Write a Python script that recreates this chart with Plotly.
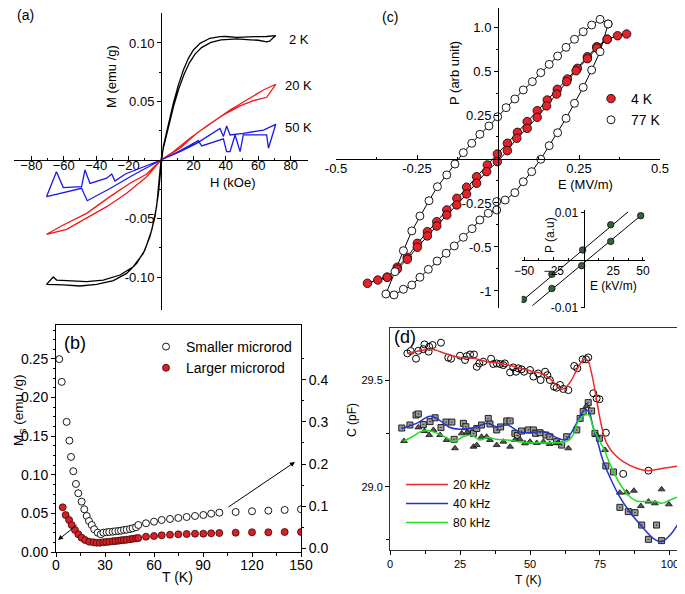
import plotly.graph_objects as go

# The page body has an 8px margin, so the figure is drawn 8px smaller and positions are shifted.
OFF = 8
W, H = 685 - OFF, 594 - OFF
FONT = "Liberation Sans, Arial, Helvetica, sans-serif"


def fx(p):
    return (p - OFF) / W


def fy(p):
    return 1 - (p - OFF) / H


# ---------------- (a) M-H loops ----------------
m2k_H = [70.8, 65, 58, 50, 46.7, 40, 36.4, 30.2, 24.1, 20, 16.9, 13.8, 10.7, 7.6, 4.5, 1.4, -0.2, -1.6,
         -3.7, -6.8, -10.9, -17.1, -25.3, -35.6, -45.9, -56.2, -64.4, -66.5, -70.6,
         -60.3, -50, -39.7, -29.4, -21.2, -15, -9.9, -5.7, -2.7, 0, 1.6, 4.7, 7.8, 11, 14.2, 17.5,
         21, 25, 30.8, 37, 47, 55, 60, 65.2, 67, 70.8]
m2k_M = [0.1063, 0.1055, 0.1054, 0.1048, 0.1048, 0.1055, 0.1054, 0.104, 0.0997, 0.094, 0.0869, 0.0769,
         0.064, 0.0484, 0.031, 0.0114, -0.0085, -0.0285, -0.0484, -0.0655, -0.0798, -0.0912, -0.0983,
         -0.1026, -0.104, -0.1034, -0.1026, -0.1000, -0.1063,
         -0.1068, -0.1077, -0.1063, -0.1031, -0.0969, -0.0883, -0.0769, -0.0598, -0.0399, 0, 0.011,
         0.029, 0.046, 0.061, 0.073, 0.083, 0.0905, 0.096, 0.1005, 0.1027, 0.1035, 0.1027, 0.1023,
         0.1009, 0.1015, 0.1063]

m20_H = [70.8, 63.2, 52.9, 42.6, 32.3, 22, 11.7, 0, -8.8, -19.1, -31.5, -45.9, -60.3, -70.6, -58.2,
         -45.9, -33.5, -21.2, -8.8, 0, 7.6, 17.9, 28.2, 38.5, 48.8, 57, 65.2, 70.8]
m20_M = [0.0647, 0.0598, 0.0513, 0.0427, 0.0328, 0.0228, 0.01, 0, -0.012, -0.0199, -0.0313, -0.0456,
         -0.0556, -0.0635, -0.0593, -0.0499, -0.0399, -0.0285, -0.0143, 0, 0.0071, 0.0185, 0.029,
         0.0385, 0.0462, 0.0507, 0.0536, 0.0647]

m50_H = [0, 11.7, 22, 30.2, 36.4, 38.5, 40.5, 42.6, 50.8, 63.2, 70.8, 66.3, 65.2, 50.8, 48.8, 45.7,
         42.6, 40.5, 38.5, 25.1, 23, 12, 0, -17.1, -32.3, -45.5, -49, -70.6, -64.5, -60.3, -49, -46.9,
         -43.8, -33.5, -30.4, -28.4, -22, 0]
m50_M = [0, 0.0071, 0.0142, 0.0214, 0.027, 0.020, 0.029, 0.0214, 0.0228, 0.0256, 0.0305, 0.010,
         0.0214, 0.0214, 0.0071, 0.0214, 0.0071, 0.0071, 0.018, 0.012, 0.0165, 0.008, 0, -0.0128,
         -0.025, -0.0348, -0.0242, -0.0313, -0.010, -0.0236, -0.0228, -0.0085, -0.020, -0.0156,
         -0.012, -0.018, -0.012, 0]

a_xticks = [-80, -60, -40, -20, 20, 40, 60, 80]
a_yticks = [-0.10, -0.05, 0.05, 0.10]
a_yticktext = ["-0.10", "-0.05", "0.05", "0.10"]

# ---------------- (c) P-E loops ----------------
p77_E = [0.340, 0.315, 0.289, 0.263, 0.236, 0.210, 0.184, 0.158, 0.132, 0.106, 0.078, 0.052, 0.025,
         -0.001, -0.028, -0.056, -0.081, -0.107, -0.133, -0.158, -0.187, -0.213, -0.241, -0.266,
         -0.292, -0.318, -0.346,
         -0.321, -0.292, -0.266, -0.241, -0.215, -0.188, -0.160, -0.135, -0.107, -0.080, -0.056,
         -0.030, -0.004, -0.004, 0.022, 0.052, 0.078, 0.104, 0.132, 0.158, 0.184, 0.210, 0.236,
         0.263, 0.289, 0.315, 0.340]
p77_P = [1.023, 1.058, 1.015, 0.964, 0.907, 0.846, 0.780, 0.717, 0.654, 0.586, 0.523, 0.455, 0.389,
         0.320, 0.250, 0.187, 0.119, 0.048, -0.038, -0.121, -0.210, -0.316, -0.432, -0.545, -0.695,
         -0.854, -1.023,
         -1.030, -0.987, -0.955, -0.896, -0.836, -0.773, -0.714, -0.659, -0.593, -0.528, -0.462,
         -0.411, -0.386, -0.323, -0.311, -0.255, -0.172, -0.096, -0.002, 0.101, 0.199, 0.308, 0.422,
         0.543, 0.674, 0.813, 1.023]

p4_E = [0.397, 0.369, 0.337, 0.305, 0.276, 0.245, 0.214, 0.183, 0.152, 0.121, 0.090, 0.060, 0.029,
        -0.002, -0.033, -0.066, -0.097, -0.127, -0.158, -0.189, -0.218, -0.249, -0.280, -0.311,
        -0.342, -0.371, -0.403,
        -0.342, -0.311, -0.280, -0.249, -0.218, -0.189, -0.158, -0.127, -0.097, -0.066, -0.035,
        -0.002, 0.029, 0.058, 0.090, 0.121, 0.150, 0.181, 0.212, 0.241, 0.276, 0.305, 0.337]
p4_P = [0.947, 0.934, 0.907, 0.851, 0.775, 0.687, 0.606, 0.528, 0.447, 0.366, 0.283, 0.202, 0.119,
        0.038, -0.045, -0.134, -0.214, -0.298, -0.386, -0.475, -0.551, -0.639, -0.745, -0.820,
        -0.896, -0.917, -0.942,
        -0.896, -0.835, -0.760, -0.669, -0.583, -0.508, -0.424, -0.348, -0.265, -0.184, -0.096,
        -0.020, 0.063, 0.157, 0.232, 0.316, 0.402, 0.492, 0.586, 0.669, 0.760, 0.840, 0.907]

c_xticks = [-0.5, -0.25, 0.25, 0.5]
c_xticktext = ["-0.5", "-0.25", "0.25", "0.5"]
c_yticks = [-1, -2 / 3, -1 / 3, 1 / 3, 2 / 3, 1]
c_yticktext = ["-1", "-0.5", "-0.25", "0.25", "0.5", "1.0"]

# inset
ins1_E = [-50.6, -26.6, -0.7, 22.9]
ins1_P = [-0.0083, -0.0030, 0.0021, 0.0074]
ins2_E = [-26.6, -1.5, 22.9, 48.1]
ins2_P = [-0.0060, -0.0012, 0.0039, 0.0093]
fit1_E = [-55, 37.5]
fit1_P = [-0.0093, 0.0101]
fit2_E = [-43, 50.5]
fit2_P = [-0.0096, 0.0098]

# ---------------- (b) Ms vs T ----------------
small_T = [2.0, 3.5, 6.5, 8.2, 9.2, 10.6, 12.2, 13.65, 15.7, 17.3, 18.8, 20.2, 21.9, 23.4, 25.5, 27.4,
           29.0, 31.0, 32.6, 34.7, 36.3, 38.2, 39.8, 41.6, 43.3, 45.3, 46.9, 49.0, 50.4, 55.1, 60.0,
           64.7, 69.8, 74.9, 80.0, 85.1, 90.2, 95, 100, 110, 120, 130, 140, 150]
small_M = [0.449, 0.395, 0.300, 0.2556, 0.2169, 0.1829, 0.1527, 0.1306, 0.1107, 0.0926, 0.0767,
           0.0648, 0.0553, 0.0451, 0.0371, 0.0333, 0.0371, 0.0380, 0.0387, 0.0394, 0.0404, 0.0411,
           0.0418, 0.0435, 0.0442, 0.0458, 0.0475, 0.0500, 0.0553, 0.0594, 0.0632, 0.0672, 0.0696,
           0.0720, 0.0743, 0.0767, 0.0791, 0.0822, 0.0846, 0.0862, 0.0879, 0.0893, 0.0910, 0.0926]
large_T = [4.1, 5.9, 8.0, 9.6, 11.6, 13.7, 15.7, 17.8, 20.4, 22.9, 24.9, 26.9, 29.0, 30.8, 32.6, 34.7,
           36.4, 38.2, 39.9, 41.6, 43.3, 45.3, 47.1, 49.0, 50.4, 55.1, 60.0, 64.7, 69.8, 74.9, 80,
           85.1, 90.2, 95, 100, 110, 120, 130, 140, 150]
large_M = [0.0579, 0.0479, 0.0415, 0.0350, 0.0285, 0.0229, 0.0185, 0.0155, 0.0133, 0.0126, 0.0120,
           0.0120, 0.0126, 0.0130, 0.0133, 0.0139, 0.0142, 0.0146, 0.0152, 0.0155, 0.0159, 0.0165,
           0.0171, 0.0177, 0.0181, 0.0198, 0.0207, 0.0216, 0.0224, 0.0229, 0.0233, 0.0237, 0.0237,
           0.0242, 0.0246, 0.0250, 0.0255, 0.0255, 0.0259, 0.0259]

# ---------------- (d) C vs T ----------------
circ_T = [6.2, 7.4, 9.3, 10.1, 11.9, 12.3, 13.8, 14.0, 15.2, 18.2, 20.8, 21.8, 25.0, 26.8, 27.4, 28.6,
          30.0, 31.0, 31.9, 33.3, 36.1, 36.9, 38.1, 39.3, 40.5, 41.0, 42.9, 44.0, 45.0, 45.8, 47.0,
          47.9, 50.0, 51.2, 52.9, 53.8, 55.4, 56.2, 57.1, 58.6, 59.5, 60.7, 61.9, 63.7, 65.8, 66.9,
          68.8, 70.0, 70.8, 72.6, 73.8, 74.8, 77.1, 83.3, 92.3]
circ_C = [29.625, 29.636, 29.600, 29.637, 29.645, 29.667, 29.633, 29.656, 29.664, 29.675, 29.605,
          29.600, 29.614, 29.594, 29.612, 29.620, 29.620, 29.562, 29.578, 29.586, 29.600, 29.575,
          29.578, 29.575, 29.570, 29.578, 29.536, 29.559, 29.539, 29.555, 29.550, 29.539, 29.547,
          29.516, 29.531, 29.500, 29.539, 29.523, 29.500, 29.469, 29.464, 29.477, 29.458, 29.453,
          29.566, 29.555, 29.597, 29.597, 29.606, 29.438, 29.414, 29.410, 29.253, 29.060, 29.075]
sq_T = [4.2, 7.1, 9.3, 10.1, 11.9, 14.3, 16.1, 18.2, 20, 22.1, 22.9, 26.2, 27.1, 28.3, 29.8, 31, 32.7,
        35.1, 35.7, 38.1, 39.5, 41.7, 42.9, 44.6, 45.5, 47, 49.4, 51.2, 52, 53.6, 55.7, 57.1, 59.5,
        61.3, 63.1, 66.7, 67.9, 69, 70.8, 72, 73.2, 74.8, 77.1, 79.8, 82.1, 85.1, 87.5, 89.9, 92.3,
        95.2, 97]
sq_C = [29.275, 29.289, 29.336, 29.341, 29.291, 29.305, 29.323, 29.277, 29.303, 29.303, 29.222,
        29.297, 29.281, 29.258, 29.25, 29.273, 29.289, 29.320, 29.294, 29.266, 29.28, 29.308, 29.308,
        29.25, 29.24, 29.261, 29.266, 29.266, 29.25, 29.253, 29.242, 29.234, 29.211, 29.195, 29.234,
        29.266, 29.32, 29.352, 29.394, 29.355, 29.25, 29.227, 29.097, 29.069, 28.903, 28.883, 28.878,
        28.82, 28.753, 28.82, 28.747]
tri_T = [5, 10.1, 12.3, 14, 15.5, 17.9, 20.2, 23.2, 25.6, 27.6, 29.8, 31, 32.7, 34.5, 35.7, 38.1,
         40.5, 42.9, 44.6, 46.4, 48.2, 50, 52.4, 54.8, 57, 60, 63.7, 70.2, 73.8, 76.8, 82.1, 84.5,
         87.1, 89.6, 92.3, 94.6, 97, 99.6]
tri_C = [29.214, 29.278, 29.261, 29.242, 29.266, 29.242, 29.219, 29.18, 29.25, 29.255, 29.1875,
         29.195, 29.234, 29.234, 29.219, 29.195, 29.211, 29.1875, 29.219, 29.222, 29.203, 29.211,
         29.205, 29.211, 29.2, 29.205, 29.18, 29.378, 29.242, 29.172, 28.972, 28.973, 28.981,
         28.909, 28.93, 28.922, 28.9875, 28.917]
fit20_T = [6.2, 10.1, 14.9, 20.2, 25, 29.8, 34.5, 39.3, 44.6, 50, 54.8, 58.3, 61.3, 64, 66.7, 69,
           70.5, 72, 73.8, 75.6, 77.4, 80.4, 83.3, 88.1, 92.3, 97.6, 103]
fit20_C = [29.625, 29.636, 29.644, 29.622, 29.606, 29.602, 29.586, 29.578, 29.5625, 29.544, 29.528,
           29.492, 29.456, 29.484, 29.547, 29.594, 29.594, 29.531, 29.406, 29.281, 29.203, 29.148,
           29.117, 29.086, 29.075, 29.086, 29.097]
fit40_T = [4.2, 9.5, 14.3, 17.9, 21, 25, 30, 35, 38, 42, 46, 50, 55, 60, 62.5, 65, 67.5, 69.5, 71,
           72.5, 74, 76, 79, 82, 86, 90, 94, 97, 100, 103]
fit40_C = [29.273, 29.297, 29.33, 29.31, 29.28, 29.269, 29.277, 29.297, 29.281, 29.289, 29.258,
           29.253, 29.258, 29.227, 29.219, 29.258, 29.32, 29.36, 29.352, 29.281, 29.219, 29.125,
           29.031, 28.953, 28.875, 28.8125, 28.758, 28.742, 28.773, 28.828]
fit80_T = [5, 8, 11, 14, 17, 20, 23, 26, 29, 32, 35, 38, 42, 46, 50, 55, 60, 63, 65, 67.5, 69.5, 71,
           72.5, 74, 76, 79, 82, 85, 88, 91, 95, 97, 100, 103]
fit80_C = [29.214, 29.234, 29.258, 29.2625, 29.25, 29.231, 29.211, 29.234, 29.242, 29.219, 29.231,
           29.222, 29.219, 29.211, 29.206, 29.206, 29.206, 29.211, 29.234, 29.3125, 29.336, 29.336,
           29.281, 29.234, 29.1875, 29.094, 29.016, 28.961, 28.933, 28.93, 28.93, 28.922, 28.9375,
           28.953]

fig = go.Figure()

# (a)
fig.add_trace(go.Scatter(x=m2k_H, y=m2k_M, mode="lines", line=dict(color="black", width=1.3),
                         xaxis="x", yaxis="y", showlegend=False))
fig.add_trace(go.Scatter(x=m20_H, y=m20_M, mode="lines", line=dict(color="#f01818", width=1.3),
                         xaxis="x", yaxis="y", showlegend=False))
fig.add_trace(go.Scatter(x=m50_H, y=m50_M, mode="lines", line=dict(color="#1818e8", width=1.3),
                         xaxis="x", yaxis="y", showlegend=False))

# (c) main
fig.add_trace(go.Scatter(x=p77_E, y=p77_P, mode="lines", line=dict(color="black", width=1),
                         xaxis="x2", yaxis="y2", showlegend=False))
fig.add_trace(go.Scatter(x=p4_E, y=p4_P, mode="lines", line=dict(color="black", width=1),
                         xaxis="x2", yaxis="y2", showlegend=False))
fig.add_trace(go.Scatter(x=p4_E, y=p4_P, mode="markers", name="4 K",
                         marker=dict(size=8.5, color="#e4222a", line=dict(color="black", width=0.8)),
                         xaxis="x2", yaxis="y2", legend="legend2"))
fig.add_trace(go.Scatter(x=p77_E, y=p77_P, mode="markers", name="77 K",
                         marker=dict(size=8, color="white", line=dict(color="black", width=0.9)),
                         xaxis="x2", yaxis="y2", legend="legend2"))
# inset
fig.add_trace(go.Scatter(x=fit1_E, y=fit1_P, mode="lines", line=dict(color="black", width=1),
                         xaxis="x3", yaxis="y3", showlegend=False))
fig.add_trace(go.Scatter(x=fit2_E, y=fit2_P, mode="lines", line=dict(color="black", width=1),
                         xaxis="x3", yaxis="y3", showlegend=False))
for ex, py_ in ((ins1_E, ins1_P), (ins2_E, ins2_P)):
    fig.add_trace(go.Scatter(x=ex, y=py_, mode="markers",
                             marker=dict(size=6.5, color="#35603a", line=dict(color="black", width=0.7)),
                             xaxis="x3", yaxis="y3", showlegend=False))

# (b)
fig.add_trace(go.Scatter(x=small_T, y=small_M, mode="markers", name="Smaller microrod",
                         marker=dict(size=7, color="white", line=dict(color="black", width=0.9)),
                         xaxis="x4", yaxis="y5", legend="legend"))
fig.add_trace(go.Scatter(x=large_T, y=large_M, mode="markers", name="Larger microrod",
                         marker=dict(size=7, color="#d42128", line=dict(color="#400000", width=0.8)),
                         xaxis="x4", yaxis="y4", legend="legend"))

# (d)
fig.add_trace(go.Scatter(x=circ_T, y=circ_C, mode="markers",
                         marker=dict(size=7, color="rgba(0,0,0,0)", line=dict(color="black", width=1)),
                         xaxis="x6", yaxis="y6", showlegend=False))
fig.add_trace(go.Scatter(x=sq_T, y=sq_C, mode="markers",
                         marker=dict(size=6, symbol="square-dot", color="#9a9a9a",
                                     line=dict(color="#202020", width=1)),
                         xaxis="x6", yaxis="y6", showlegend=False))
fig.add_trace(go.Scatter(x=tri_T, y=tri_C, mode="markers",
                         marker=dict(size=6, symbol="triangle-up", color="#555555",
                                     line=dict(color="#111111", width=0.8)),
                         xaxis="x6", yaxis="y6", showlegend=False))
fig.add_trace(go.Scatter(x=fit20_T, y=fit20_C, mode="lines", name="20 kHz", line_shape="spline",
                         line=dict(color="#ee2a2a", width=1.5), xaxis="x6", yaxis="y6", legend="legend3"))
fig.add_trace(go.Scatter(x=fit40_T, y=fit40_C, mode="lines", name="40 kHz", line_shape="spline",
                         line=dict(color="#2233cc", width=1.5), xaxis="x6", yaxis="y6", legend="legend3"))
fig.add_trace(go.Scatter(x=fit80_T, y=fit80_C, mode="lines", name="80 kHz", line_shape="spline",
                         line=dict(color="#22dd22", width=1.5), xaxis="x6", yaxis="y6", legend="legend3"))

axcommon = dict(showgrid=False, zeroline=False, showline=True, linecolor="black", linewidth=1,
                automargin=False, tickcolor="black",
                tickfont=dict(family=FONT, size=13, color="black"))

layout = dict(
    template="none",
    width=W, height=H, margin=dict(l=0, r=0, t=0, b=0, pad=0), autosize=False,
    paper_bgcolor="white", plot_bgcolor="white",
    font=dict(family=FONT, size=13, color="black"),
    # (a)
    xaxis=dict(axcommon, domain=[fx(14), fx(308)], range=[-90.7, 90.7], anchor="free", position=fy(160),
               tickmode="array", tickvals=a_xticks, ticks="inside", ticklen=4, ticklabelstandoff=-7,
               minor=dict(tickmode="array", tickvals=[-70, -50, -30, -10, 10, 30, 50, 70],
                          ticks="inside", ticklen=2, tickcolor="black")),
    yaxis=dict(axcommon, domain=[fy(310), fy(13)], range=[-0.1282, 0.1256], anchor="free", position=fx(161),
               tickmode="array", tickvals=a_yticks, ticktext=a_yticktext, ticks="outside", ticklen=4,
               minor=dict(tickmode="array", tickvals=[-0.075, -0.025, 0.025, 0.075],
                          ticks="outside", ticklen=2, tickcolor="black")),
    # (c) main
    xaxis2=dict(axcommon, domain=[fx(336), fx(660)], range=[-0.5, 0.5], anchor="free", position=fy(159),
                tickmode="array", tickvals=c_xticks, ticktext=c_xticktext, ticks="inside", ticklen=4,
                ticklabelstandoff=-3,
                minor=dict(tickmode="array", tickvals=[-0.375, -0.125, 0.125, 0.375],
                           ticks="inside", ticklen=2, tickcolor="black")),
    yaxis2=dict(axcommon, domain=[fy(308), 1.0], range=[-1.129, 1.144], anchor="free", position=fx(498),
                tickmode="array", tickvals=c_yticks, ticktext=c_yticktext, ticks="outside", ticklen=4,
                minor=dict(tickmode="array", tickvals=[-5 / 6, -1 / 2, -1 / 6, 1 / 6, 1 / 2, 5 / 6],
                           ticks="outside", ticklen=2, tickcolor="black")),
    # inset
    xaxis3=dict(axcommon, domain=[fx(521.7), fx(645.3)], range=[-52, 52], anchor="free", position=fy(260),
                tickmode="array", tickvals=[-50, -25, 25, 50], ticks="inside", ticklen=3,
                tickfont=dict(family=FONT, size=12, color="black"),
                minor=dict(tickmode="array", tickvals=[-37.5, -12.5, 12.5, 37.5],
                           ticks="inside", ticklen=2, tickcolor="black")),
    yaxis3=dict(axcommon, domain=[fy(308), fy(210)], range=[-0.0101, 0.0105], anchor="free",
                position=fx(583.5), tickmode="array", tickvals=[-0.01, 0.01], ticktext=["-0.01", "0.01"],
                ticks="outside", ticklen=3, tickfont=dict(family=FONT, size=12, color="black")),
    # (b)
    xaxis4=dict(axcommon, domain=[fx(56), fx(301)], range=[0, 150], anchor="y4", mirror=True,
                tickmode="linear", tick0=0, dtick=30, ticks="outside", ticklen=4, ticklabelstandoff=-4,
                tickfont=dict(family=FONT, size=14, color="black"),
                minor=dict(dtick=15, ticks="outside", ticklen=3, tickcolor="black")),
    yaxis4=dict(axcommon, domain=[fy(552), fy(325)], range=[0, 0.294], anchor="x4",
                tickmode="linear", tick0=0, dtick=0.05, tickformat=".2f", ticks="outside", ticklen=4,
                tickfont=dict(family=FONT, size=14, color="black"),
                minor=dict(dtick=0.0125, ticks="outside", ticklen=2, tickcolor="black")),
    yaxis5=dict(axcommon, range=[-0.0088, 0.530], anchor="x4", overlaying="y4", side="right",
                tickmode="array", tickvals=[0, 0.1, 0.2, 0.3, 0.4],
                ticktext=["0.0", "0.1", "0.2", "0.3", "0.4"], ticks="outside", ticklen=4,
                tickfont=dict(family=FONT, size=14, color="black"),
                minor=dict(tickmode="array", tickvals=[0.05, 0.15, 0.25, 0.35, 0.45],
                           ticks="outside", ticklen=2, tickcolor="black")),
    # (d)
    xaxis6=dict(axcommon, domain=[fx(390), fx(678)], range=[0, 102.86], anchor="y6", mirror=True,
                linecolor="#333333", tickmode="linear", tick0=0, dtick=25, ticks="outside", ticklen=4,
                tickfont=dict(family=FONT, size=11, color="black"),
                minor=dict(dtick=12.5, ticks="outside", ticklen=3, tickcolor="black")),
    yaxis6=dict(axcommon, domain=[fy(550), fy(328)], range=[28.703, 29.744], anchor="x6", mirror=True,
                linecolor="#333333", tickmode="array", tickvals=[29.0, 29.5], ticktext=["29.0", "29.5"],
                ticks="outside", ticklen=4, tickfont=dict(family=FONT, size=11, color="black"),
                minor=dict(tickmode="array", tickvals=[28.75, 29.25, 29.75], ticks="outside", ticklen=3,
                           tickcolor="black")),
    legend=dict(x=fx(146), y=fy(331), xanchor="left", yanchor="top", bgcolor="rgba(0,0,0,0)",
                borderwidth=0, font=dict(family=FONT, size=14, color="black"), tracegroupgap=0),
    legend2=dict(x=fx(591), y=fy(83), xanchor="left", yanchor="top", bgcolor="rgba(0,0,0,0)",
                 borderwidth=0, font=dict(family=FONT, size=14, color="black")),
    legend3=dict(x=fx(401), y=fy(470), xanchor="left", yanchor="top", bgcolor="rgba(0,0,0,0)",
                 borderwidth=0, itemwidth=42, font=dict(family=FONT, size=12, color="black")),
)
fig.update_layout(**layout)


def txt(x, y, s, size=13, angle=0, xanchor="center"):
    return dict(x=fx(x), y=fy(y), xref="paper", yref="paper", text=s, showarrow=False,
                textangle=angle, xanchor=xanchor, yanchor="middle",
                font=dict(family=FONT, size=size, color="black"))


anns = [
    txt(25, 15, "(a)", 14),
    txt(299, 39, "2 K", 13), txt(298, 85, "20 K", 13), txt(298, 128, "50 K", 13),
    txt(112, 77, "M (emu /g)", 13, -90),
    txt(233, 182, "H (kOe)", 13),
    txt(390, 17, "(c)", 14),
    txt(455, 73, "P (arb unit)", 13, -90),
    txt(585, 184, "E (MV/m)", 13),
    txt(550, 235, "P (a.u)", 12, -90),
    txt(613, 286, "E (kV/m)", 12),
    txt(75, 343, "(b)", 18),
    txt(19, 410, "M<sub>S</sub> (emu /g)", 13.5, -90),
    txt(177, 577, "T (K)", 14),
    txt(405, 337, "(d)", 18),
    txt(352, 420, "C (pF)", 12, -90),
    txt(528, 580, "T (K)", 12),
]
# arrows in (b)
arrow_tail = [(104.7, 0.057), (13.5, 0.0363)]
arrow_head = [(146.3, 0.1166), (1.2, 0.0155)]
for (tx, ty), (hx, hy) in zip(arrow_tail, arrow_head):
    anns.append(dict(x=hx, y=hy, ax=tx, ay=ty, xref="x4", yref="y4", axref="x4", ayref="y4",
                     text="", showarrow=True, arrowhead=2, arrowsize=1, arrowwidth=1, arrowcolor="black"))
fig.update_layout(annotations=anns)

fig.write_html("out.html")
